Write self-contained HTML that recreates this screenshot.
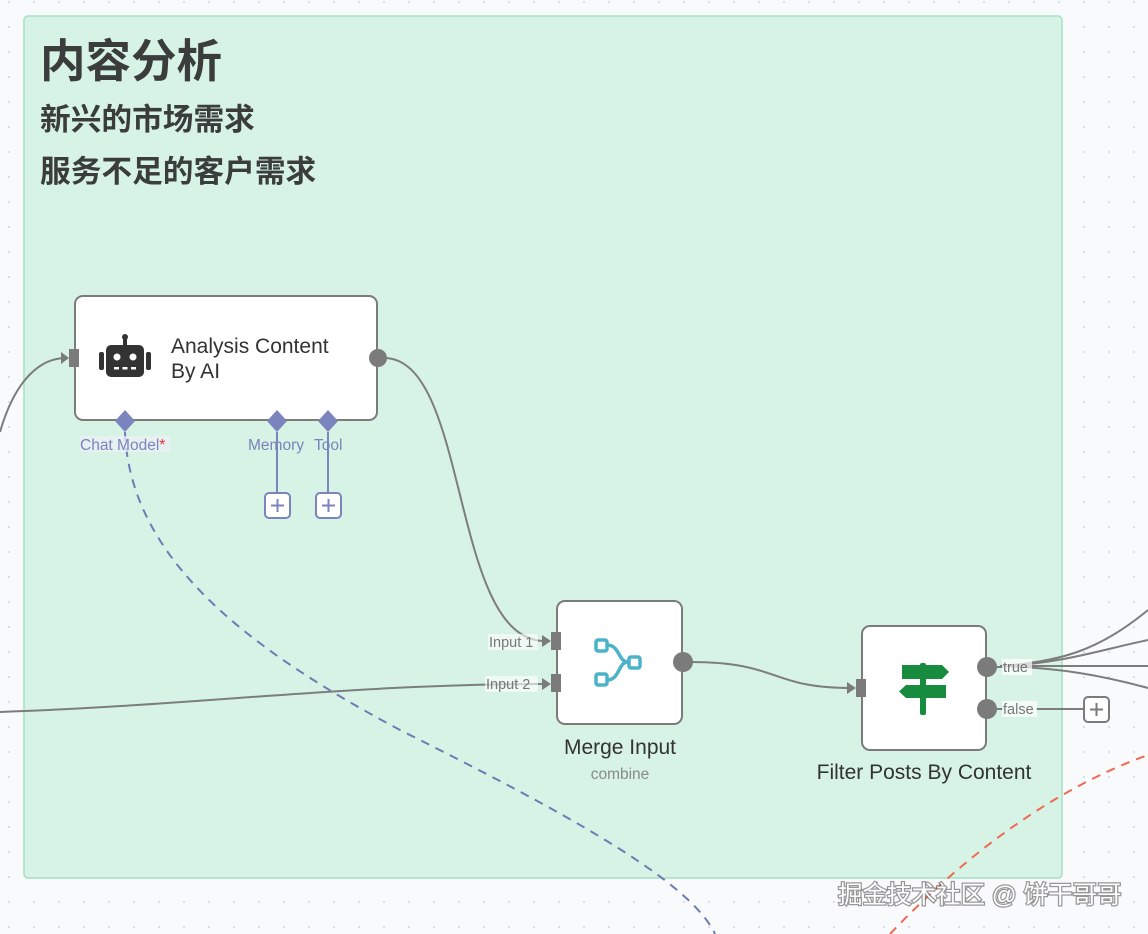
<!DOCTYPE html>
<html><head><meta charset="utf-8"><style>
html,body{margin:0;padding:0;width:1148px;height:934px;overflow:hidden;background:#f9fafb;}
svg{display:block}
.t{font-family:"Liberation Sans","Noto Sans CJK SC",sans-serif;}
</style></head><body>
<svg width="1148" height="934" viewBox="0 0 1148 934" xmlns="http://www.w3.org/2000/svg">
<defs><pattern id="d" width="25" height="25" patternUnits="userSpaceOnUse" x="8" y="1"><circle cx="1" cy="1" r="0.9" fill="#c8c8cc"/></pattern></defs>
<rect width="1148" height="934" fill="url(#d)"/>
<rect x="24" y="16" width="1038" height="862" rx="4" fill="#d7f3e5" stroke="#a3e3c2" stroke-width="1.5"/>
<text class="t" x="40" y="77" font-size="45.5" font-weight="bold" fill="#3a3d3b">内容分析</text>
<text class="t" x="40" y="130" font-size="30.7" font-weight="bold" fill="#3a3d3b">新兴的市场需求</text>
<text class="t" x="40" y="182" font-size="30.7" font-weight="bold" fill="#3a3d3b">服务不足的客户需求</text>

<!-- connectors -->
<g fill="none" stroke="#7d7d7d" stroke-width="2">
<path d="M0,432 C15,380 40,358 66,358"/>
<path d="M384,358 C470,358 450,641 545,641"/>
<path d="M0,712 C200,705 350,684 545,684"/>
<path d="M690,662 C780,662 770,688 851,688"/>
<path d="M1000,666 C1060,662 1100,650 1148,610"/>
<path d="M1000,666 C1060,664 1100,650 1148,640"/>
<path d="M1000,666 L1148,666"/>
<path d="M1000,666 C1060,668 1100,675 1148,688"/>
<path d="M1036,709 L1085,709"/>
</g>
<path d="M125,432 C130,560 250,650 400,730 C560,810 690,880 715,934" fill="none" stroke="#6f7bb5" stroke-width="2" stroke-dasharray="9,7"/>
<path d="M890,934 C960,860 1050,790 1148,755" fill="none" stroke="#ee6a52" stroke-width="2" stroke-dasharray="9,7"/>

<!-- AI node -->
<rect x="75" y="296" width="302" height="124" rx="8" fill="#fff" stroke="#7b7b7b" stroke-width="2"/>
<rect x="69" y="349" width="10" height="18" fill="#7b7b7b"/><path d="M61,352 L69,358 L61,364Z" fill="#7b7b7b"/>
<circle cx="378" cy="358" r="9" fill="#7b7b7b"/>
<g fill="#333">
<rect x="106" y="345" width="38" height="32" rx="5"/><rect x="99" y="352" width="5" height="18" rx="2"/><rect x="146" y="352" width="5" height="18" rx="2"/>
<rect x="123" y="337" width="4" height="8"/><circle cx="125" cy="337" r="3"/>
</g>
<circle cx="117" cy="357" r="3.5" fill="#fff"/><circle cx="133" cy="357" r="3.5" fill="#fff"/>
<rect x="114" y="367" width="5" height="2.5" fill="#fff"/><rect x="122.5" y="367" width="5" height="2.5" fill="#fff"/><rect x="131" y="367" width="5" height="2.5" fill="#fff"/>
<text class="t" x="171" y="353" font-size="21" fill="#333">Analysis Content</text>
<text class="t" x="171" y="378" font-size="21" fill="#333">By AI</text>
<g fill="#7b84bd">
<path d="M125,410 L135,421 L125,432 L115,421Z"/>
<path d="M277,410 L287,421 L277,432 L267,421Z"/>
<path d="M328,410 L338,421 L328,432 L318,421Z"/>
</g>
<g stroke="#7b84bd" stroke-width="2" fill="none"><path d="M277,432 V493"/><path d="M328,432 V493"/>
<rect x="265" y="493" width="25" height="25" rx="4" fill="#fff"/><rect x="316" y="493" width="25" height="25" rx="4" fill="#fff"/>
<path d="M271,505.5 H284 M277.5,499 V512 M322,505.5 H335 M328.5,499 V512"/></g>
<rect x="80" y="436" width="90" height="16" fill="#eef0f8" opacity="0.7"/>
<text class="t" x="80" y="450" font-size="15.5" fill="#7b84bd">Chat Model<tspan fill="#e03030">*</tspan></text>
<text class="t" x="248" y="450" font-size="15.5" fill="#7b84bd">Memory</text>
<text class="t" x="314" y="450" font-size="15.5" fill="#7b84bd">Tool</text>

<!-- Merge -->
<rect x="557" y="601" width="125" height="123" rx="8" fill="#fff" stroke="#7b7b7b" stroke-width="2"/>
<rect x="551" y="632" width="10" height="18" fill="#7b7b7b"/><path d="M542,635 L551,641 L542,647Z" fill="#7b7b7b"/>
<rect x="551" y="674" width="10" height="18" fill="#7b7b7b"/><path d="M542,678 L551,684 L542,690Z" fill="#7b7b7b"/>
<circle cx="683" cy="662" r="10" fill="#7b7b7b"/>
<rect x="488" y="634" width="50" height="16" fill="#fff" opacity="0.6"/><rect x="485" y="676" width="53" height="16" fill="#fff" opacity="0.6"/>
<text class="t" x="489" y="647" font-size="14.5" fill="#777">Input 1</text>
<text class="t" x="486" y="689" font-size="14.5" fill="#777">Input 2</text>
<g fill="none" stroke="#4bb3c8" stroke-width="3.5" stroke-linejoin="round">
<rect x="596" y="640" width="11" height="11" rx="2"/><rect x="596" y="674" width="11" height="11" rx="2"/><rect x="629" y="657" width="11" height="11" rx="2"/>
<path d="M607,645 C620,645 618,662 628,662 M607,680 C620,680 618,662 628,662"/></g>
<text class="t" x="620" y="754" font-size="21" fill="#333" text-anchor="middle">Merge Input</text>
<text class="t" x="620" y="779" font-size="15.5" fill="#8a8a8a" text-anchor="middle">combine</text>

<!-- Filter -->
<rect x="862" y="626" width="124" height="124" rx="8" fill="#fff" stroke="#7b7b7b" stroke-width="2"/>
<rect x="856" y="679" width="10" height="18" fill="#7b7b7b"/><path d="M847,682 L856,688 L847,694Z" fill="#7b7b7b"/>
<circle cx="987" cy="667" r="10" fill="#7b7b7b"/><circle cx="987" cy="709" r="10" fill="#7b7b7b"/>
<path d="M997,667 H1003 M997,709 H1003" stroke="#7b7b7b" stroke-width="2"/>
<rect x="1002" y="659" width="30" height="16" fill="#fff" opacity="0.7"/><rect x="1002" y="701" width="35" height="16" fill="#fff" opacity="0.7"/>
<text class="t" x="1003" y="672" font-size="14.5" fill="#777">true</text>
<text class="t" x="1003" y="714" font-size="14.5" fill="#777">false</text>
<g fill="#178b3e">
<rect x="920" y="663" width="6" height="52" rx="2"/>
<path d="M902,665 H942 L949,672 L942,679 H902Z"/>
<path d="M906,685 H946 V698 H906 L899,691.5Z"/>
</g>
<rect x="1084" y="697" width="25" height="25" rx="4" fill="#fff" stroke="#7b7b7b" stroke-width="2"/>
<path d="M1090,709.5 H1103 M1096.5,703 V716" stroke="#7b7b7b" stroke-width="2"/>
<text class="t" x="924" y="779" font-size="21" fill="#333" text-anchor="middle">Filter Posts By Content</text>

<text class="t" x="838" y="903" font-size="24.5" fill="#fff" stroke="#555" stroke-width="2.5" stroke-opacity="0.6" paint-order="stroke">掘金技术社区 @ 饼干哥哥</text>
</svg>
</body></html>
